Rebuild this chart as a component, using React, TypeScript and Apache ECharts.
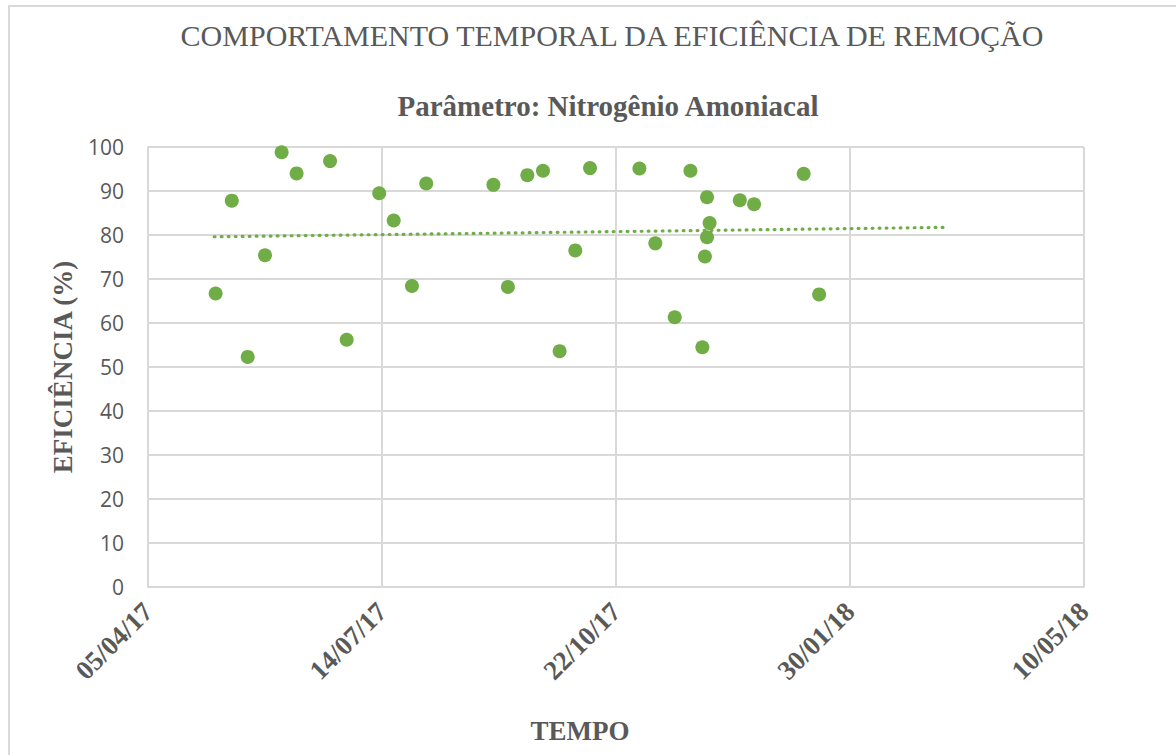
import React, { useEffect, useRef } from "react";
import * as echarts from "echarts";

// Days counted from 05/04/17 (x axis origin)
const START_DATE = Date.UTC(2017, 3, 5);
const xTickDays = [0, 100, 200, 300, 400];

const sampleDays = [
  28.9, 35.8, 42.6, 50.0, 57.1, 63.5, 77.8, 84.9, 98.8, 105.0, 112.8, 118.9,
  147.6, 153.8, 162.1, 168.8, 175.9, 182.6, 188.9, 210.0, 216.8, 225.1, 231.8,
  236.9, 238.0, 238.9, 238.9, 240.0, 252.9, 259.0, 280.2, 286.8,
];
const efficiency = [
  66.7, 87.8, 52.3, 75.4, 98.8, 94.0, 96.8, 56.2, 89.5, 83.3, 68.4, 91.7,
  91.4, 68.2, 93.6, 94.6, 53.6, 76.5, 95.2, 95.1, 78.1, 61.3, 94.6,
  54.5, 75.1, 88.6, 79.5, 82.7, 87.9, 87.0, 93.9, 66.5,
];
// Linear trendline end points
const trendDays = [28.3, 341.8];
const trendValues = [79.6, 81.75];

const TITLE = "COMPORTAMENTO TEMPORAL DA EFICIÊNCIA DE REMOÇÃO";
const SUBTITLE = "Parâmetro: Nitrogênio Amoniacal";
const Y_NAME = "EFICIÊNCIA (%)";
const X_NAME = "TEMPO";

const GREEN = "#70AD47";
const TEXT = "#595959";
const GRID = "#d9d9d9";
const SERIF = "'Liberation Serif', 'Times New Roman', serif";

function fmtDate(day: number): string {
  const d = new Date(START_DATE + Math.round(day) * 86400000);
  const dd = String(d.getUTCDate()).padStart(2, "0");
  const mm = String(d.getUTCMonth() + 1).padStart(2, "0");
  const yy = String(d.getUTCFullYear() % 100).padStart(2, "0");
  return `${dd}/${mm}/${yy}`;
}

export default function App() {
  const ref = useRef<HTMLDivElement>(null);
  useEffect(() => {
    if (!ref.current) return;
    const chart = echarts.init(ref.current, undefined, { renderer: "svg" });
    chart.setOption({
      animation: false,
      backgroundColor: "#ffffff",
      grid: { left: 148, top: 147, width: 936, height: 440, containLabel: false },
      xAxis: {
        type: "value",
        min: xTickDays[0],
        max: xTickDays[xTickDays.length - 1],
        interval: 100,
        axisLine: { show: true, lineStyle: { color: GRID, width: 2 } },
        axisTick: { show: false },
        splitLine: { show: true, lineStyle: { color: GRID, width: 2 } },
        axisLabel: {
          rotate: 45,
          margin: 20,
          color: TEXT,
          fontFamily: SERIF,
          fontWeight: "bold",
          fontSize: 27,
          formatter: (v: number) => fmtDate(v),
        },
      },
      yAxis: {
        type: "value",
        min: 0,
        max: 100,
        interval: 10,
        axisLine: { show: true, lineStyle: { color: GRID, width: 2 } },
        axisTick: { show: false },
        splitLine: { show: true, lineStyle: { color: GRID, width: 2 } },
        axisLabel: {
          margin: 24,
          color: TEXT,
          fontFamily: "'Open Sans', sans-serif",
          fontSize: 21,
        },
      },
      series: [
        {
          type: "line",
          data: trendDays.map((d, i) => [d, trendValues[i]]),
          showSymbol: false,
          symbol: "none",
          lineStyle: { color: GREEN, width: 3.2, type: [0.8, 6.2], cap: "round", opacity: 1 },
          silent: true,
          z: 1,
        },
        {
          type: "scatter",
          data: sampleDays.map((d, i) => [d, efficiency[i]]),
          symbol: "circle",
          symbolSize: 14,
          itemStyle: { color: GREEN, opacity: 1 },
          z: 2,
        },
      ],
      graphic: [
        {
          type: "rect",
          shape: { x: 9, y: 6, width: 1300, height: 900 },
          style: { fill: "none", stroke: GRID, lineWidth: 2 },
          z: -10,
          silent: true,
        },
        {
          type: "text",
          x: 612,
          y: 35,
          style: {
            text: TITLE,
            fill: TEXT,
            font: `normal 30px ${SERIF}`,
            textAlign: "center",
            textVerticalAlign: "middle",
          },
        },
        {
          type: "text",
          x: 608,
          y: 106,
          style: {
            text: SUBTITLE,
            fill: TEXT,
            font: `bold 29px ${SERIF}`,
            textAlign: "center",
            textVerticalAlign: "middle",
          },
        },
        {
          type: "text",
          x: 63,
          y: 367,
          rotation: Math.PI / 2,
          style: {
            text: Y_NAME,
            fill: TEXT,
            font: `bold 27px ${SERIF}`,
            textAlign: "center",
            textVerticalAlign: "middle",
          },
        },
        {
          type: "text",
          x: 580,
          y: 731,
          style: {
            text: X_NAME,
            fill: TEXT,
            font: `bold 27px ${SERIF}`,
            textAlign: "center",
            textVerticalAlign: "middle",
          },
        },
      ],
    });
    return () => chart.dispose();
  }, []);
  return (
    <div
      ref={ref}
      style={{ position: "fixed", left: 0, top: 0, width: 1176, height: 755 }}
    />
  );
}
